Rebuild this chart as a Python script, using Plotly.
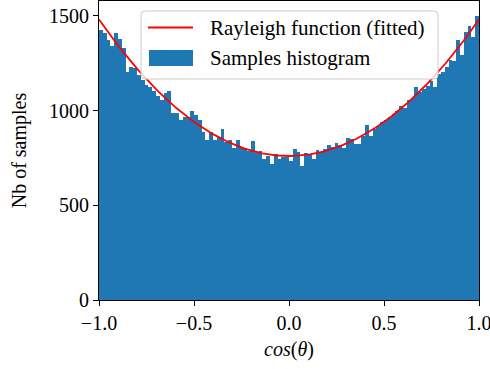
import numpy as np
import plotly.graph_objects as go

# Histogram: 100 bins over [-1, 1]
bin_edges_start = -1.0
bin_width = 0.02
counts = [
    1426, 1408, 1374, 1339, 1410, 1379, 1332, 1204, 1232, 1223,
    1188, 1162, 1137, 1126, 1105, 1079, 1056, 1091, 1102, 988,
    988, 951, 965, 965, 995, 977, 951, 886, 846, 886,
    842, 860, 900, 835, 842, 802, 842, 807, 802, 789,
    837, 780, 789, 746, 758, 716, 768, 742, 756, 756,
    733, 798, 780, 705, 777, 772, 742, 793, 780, 798,
    816, 807, 826, 819, 802, 854, 851, 825, 825, 868,
    921, 868, 903, 917, 939, 951, 965, 982, 1000, 1025,
    1014, 1053, 1068, 1123, 1100, 1114, 1132, 1158, 1126, 1193,
    1205, 1232, 1267, 1260, 1372, 1293, 1412, 1444, 1386, 1500,
]
bin_centers = [bin_edges_start + bin_width * (i + 0.5) for i in range(len(counts))]

# Fitted Rayleigh function parameters: A + B*x^2
fit_A = 760.0
fit_B = 720.0
fit_x = np.linspace(-1, 1, 201)
fit_y = fit_A + fit_B * fit_x ** 2

x_tickvals = [-1.0, -0.5, 0.0, 0.5, 1.0]
x_ticktext = ["\u22121.0", "\u22120.5", "0.0", "0.5", "1.0"]
y_tickvals = [0, 500, 1000, 1500]
legend_labels = ["Rayleigh function (fitted)", "Samples histogram"]

FONT = "Liberation Serif"
FS = 20
BLUE = "#1f77b4"
RED = "red"

W, H = 490, 369
ML, MR, MT, MB = 99, 11, 1, 69
PW, PH = W - ML - MR, H - MT - MB


def px(x):
    return (x - ML) / PW


def py(y):
    return (H - MB - y) / PH


fig = go.Figure()
fig.add_trace(go.Bar(
    x=bin_centers, y=counts, width=bin_width,
    marker=dict(color=BLUE, line=dict(width=0)),
    name=legend_labels[1], showlegend=False,
))
fig.add_trace(go.Scatter(
    x=fit_x, y=fit_y, mode="lines",
    line=dict(color=RED, width=1.8),
    name=legend_labels[0], showlegend=False,
))

# custom legend (matplotlib-like frame)
x0, x1, y0, y1, r = 141, 438, 11, 79, 4
path = (
    f"M {px(x0 + r)},{py(y0)} L {px(x1 - r)},{py(y0)} "
    f"Q {px(x1)},{py(y0)} {px(x1)},{py(y0 + r)} "
    f"L {px(x1)},{py(y1 - r)} Q {px(x1)},{py(y1)} {px(x1 - r)},{py(y1)} "
    f"L {px(x0 + r)},{py(y1)} Q {px(x0)},{py(y1)} {px(x0)},{py(y1 - r)} "
    f"L {px(x0)},{py(y0 + r)} Q {px(x0)},{py(y0)} {px(x0 + r)},{py(y0)} Z"
)
shapes = [
    dict(type="path", xref="paper", yref="paper", path=path,
         fillcolor="rgba(255,255,255,0.8)", line=dict(color="#cccccc", width=1), layer="above"),
    dict(type="line", xref="paper", yref="paper", x0=px(148), x1=px(193), y0=py(27.5), y1=py(27.5),
         line=dict(color=RED, width=1.8), layer="above"),
    dict(type="rect", xref="paper", yref="paper", x0=px(149), x1=px(193), y0=py(50), y1=py(66),
         fillcolor=BLUE, line=dict(width=0), layer="above"),
]
annotations = [
    dict(xref="paper", yref="paper", x=px(208), y=py(28), xanchor="left", yanchor="middle",
         text=legend_labels[0], showarrow=False, font=dict(family=FONT, size=21, color="black")),
    dict(xref="paper", yref="paper", x=px(208), y=py(58), xanchor="left", yanchor="middle",
         text=legend_labels[1], showarrow=False, font=dict(family=FONT, size=21, color="black")),
]

fig.update_layout(
    width=W, height=H,
    margin=dict(l=ML, r=MR, t=MT, b=MB),
    paper_bgcolor="white", plot_bgcolor="white",
    font=dict(family=FONT, size=FS, color="black"),
    bargap=0,
    showlegend=False,
    shapes=shapes,
    annotations=annotations,
    xaxis=dict(
        range=[-1, 1], tickvals=x_tickvals, ticktext=x_ticktext,
        ticks="outside", ticklen=5, tickwidth=1, tickcolor="black",
        showline=True, linecolor="black", linewidth=1, mirror=True,
        showgrid=False, zeroline=False, automargin=False,
        ticklabeloverflow="allow",
        tickfont=dict(family=FONT, size=FS),
        title=dict(text="<i>cos</i>(<i>θ</i>)", font=dict(family=FONT, size=FS), standoff=8),
    ),
    yaxis=dict(
        range=[0, 1578], tickvals=y_tickvals,
        ticks="outside", ticklen=5, tickwidth=1, tickcolor="black",
        showline=True, linecolor="black", linewidth=1, mirror=True,
        showgrid=False, zeroline=False, automargin=False,
        ticklabeloverflow="allow",
        tickfont=dict(family=FONT, size=FS),
        title=dict(text="Nb of samples", font=dict(family=FONT, size=FS), standoff=17),
    ),
)

fig.write_html("out.html", config={"displayModeBar": False},
               post_script="document.body.style.margin='0px';")
